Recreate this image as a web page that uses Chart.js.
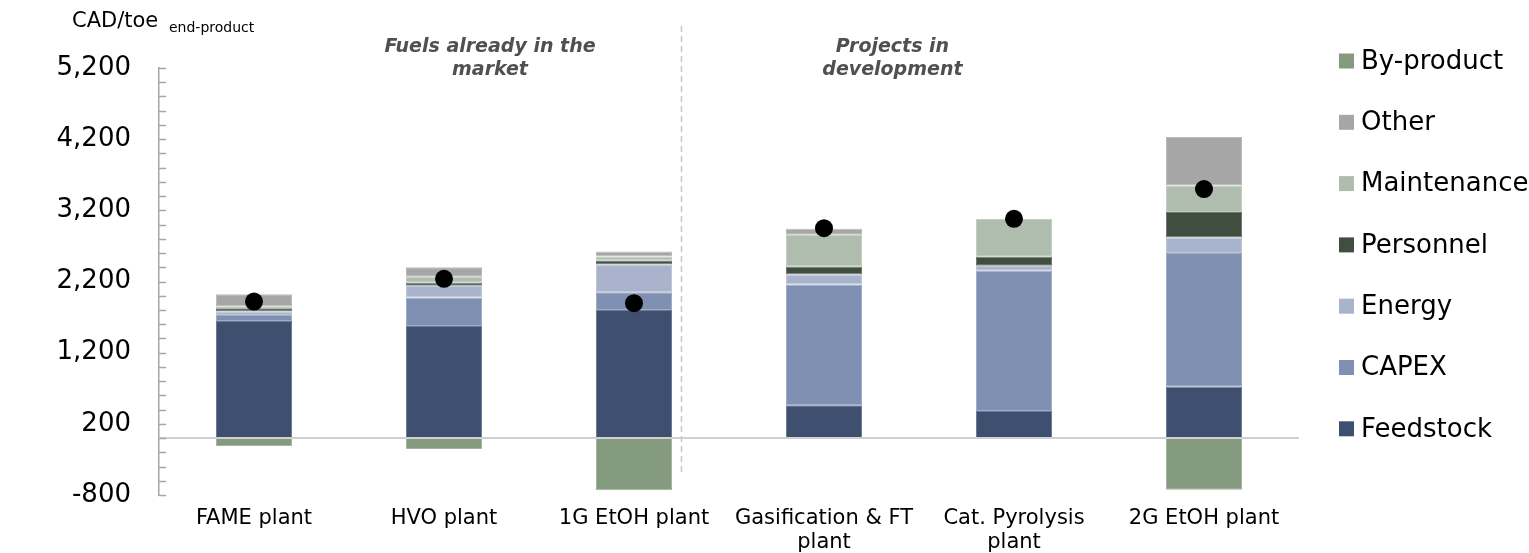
<!DOCTYPE html>
<html>
<head>
<meta charset="utf-8">
<script src="https://cdn.jsdelivr.net/npm/chart.js@4.4.1/dist/chart.umd.min.js"></script>
<style>
  html, body { margin: 0; padding: 0; background: #ffffff; }
  #wrap { width: 1529px; height: 553px; }
</style>
</head>
<body>
<div id="wrap"><canvas id="c" width="1529" height="553"></canvas></div>
<script>
// Plant types on the category axis
const categories = [
  'FAME plant',
  'HVO plant',
  '1G EtOH plant',
  ['Gasification & FT', 'plant'],
  ['Cat. Pyrolysis', 'plant'],
  '2G EtOH plant'
];

// Cost components, CAD per toe of end-product
const feedstock   = [1646, 1576, 1801, 460, 380, 722];
const capex       = [84, 398, 249, 1697, 1970, 1877];
const energy      = [47, 165, 389, 141, 70, 219];
const personnel   = [47, 42, 56, 112, 127, 358];
const maintenance = [28, 84, 56, 446, 530, 374];
const other       = [169, 136, 70, 85, 0, 681];
const byProduct   = [-110, -155, -732, 0, 0, -727];

// Net production cost (black dots)
const netCost = [1918, 2237, 1895, 2950, 3081, 3499];

// Axis range and labelled ticks
const yMin = -800;
const yMax = 5200;
const yMinorStep = 200;
const yLabelStep = 1000;

const groupLabels = [
  { lines: ['Fuels already in the', 'market'], at: 1.242 },
  { lines: ['Projects in', 'development'], at: 3.36 }
];
const separatorAt = 2.245;

const FONT = '"DejaVu Sans", Verdana, sans-serif';
Chart.defaults.font.family = FONT;
Chart.defaults.color = '#000000';

// slightly lighter edge for each bar segment
function tint(hex, f) {
  const n = parseInt(hex.slice(1), 16);
  const ch = [(n >> 16) & 255, (n >> 8) & 255, n & 255].map(c => Math.round(c + (255 - c) * f));
  return 'rgb(' + ch.join(',') + ')';
}
function barSet(label, data, color) {
  return {
    type: 'bar', label, data, backgroundColor: color,
    borderColor: tint(color, 0.25), borderWidth: 1, borderSkipped: false,
    stack: 'cost', order: 1,
    categoryPercentage: 0.8, barPercentage: 0.5
  };
}

// Short inward tick marks on the value axis
const innerTicks = {
  id: 'innerTicks',
  afterDraw(chart) {
    const y = chart.scales.y, ctx = chart.ctx, x0 = chart.chartArea.left;
    ctx.save();
    ctx.strokeStyle = '#a6a6a6';
    ctx.lineWidth = 1.5;
    y.ticks.forEach(t => {
      const py = Math.round(y.getPixelForValue(t.value)) + 0.5;
      ctx.beginPath();
      ctx.moveTo(x0, py);
      ctx.lineTo(x0 + 7, py);
      ctx.stroke();
    });
    ctx.restore();
  }
};

// Zero line, separator, group headings, unit label and legend
const decorations = {
  id: 'decorations',
  afterDatasetsDraw(chart) {
    const { ctx, chartArea } = chart;
    const y = chart.scales.y;
    ctx.save();
    const y0 = y.getPixelForValue(0);
    ctx.strokeStyle = '#d0d0d0';
    ctx.lineWidth = 2;
    ctx.beginPath();
    ctx.moveTo(chartArea.left, y0);
    ctx.lineTo(chartArea.right, y0);
    ctx.stroke();
    ctx.restore();
  },
  afterDraw(chart) {
    const { ctx, chartArea } = chart;
    const x = chart.scales.x, y = chart.scales.y;
    ctx.save();
    // dashed separator between market fuels and projects
    const sx = Math.round(x.getPixelForValue(separatorAt)) + 0.5;
    ctx.strokeStyle = '#c8c8c8';
    ctx.lineWidth = 1.5;
    ctx.setLineDash([6, 4]);
    ctx.beginPath();
    ctx.moveTo(sx, chartArea.top - 42);
    ctx.lineTo(sx, y.getPixelForValue(-520));
    ctx.stroke();
    ctx.setLineDash([]);

    // group headings
    ctx.fillStyle = '#505050';
    ctx.font = 'italic bold 19px ' + FONT;
    ctx.textAlign = 'center';
    ctx.textBaseline = 'middle';
    groupLabels.forEach(g => {
      const gx = x.getPixelForValue(g.at);
      g.lines.forEach((line, i) => {
        ctx.fillText(line, gx, chartArea.top - 21 + i * 23);
      });
    });

    // unit label
    ctx.fillStyle = '#000000';
    ctx.textAlign = 'left';
    ctx.textBaseline = 'alphabetic';
    ctx.font = '21px ' + FONT;
    ctx.fillText('CAD/toe', 72, 27);
    ctx.font = '14px ' + FONT;
    ctx.fillText('end-product', 169, 32);

    // legend, top to bottom in reverse stacking order
    const items = chart.data.datasets.filter(d => d.type === 'bar').slice().reverse();
    ctx.font = '26px ' + FONT;
    ctx.textBaseline = 'middle';
    items.forEach((d, i) => {
      const cy = 61 + i * 61.3;
      ctx.fillStyle = d.backgroundColor;
      ctx.fillRect(1339, cy - 7.5, 15, 15);
      ctx.fillStyle = '#000000';
      ctx.fillText(d.label, 1361, cy + 1);
    });
    ctx.restore();
  }
};

new Chart(document.getElementById('c'), {
  data: {
    labels: categories,
    datasets: [
      barSet('Feedstock', feedstock, '#3f4f6f'),
      barSet('CAPEX', capex, '#7f90b3'),
      barSet('Energy', energy, '#a9b4cc'),
      barSet('Personnel', personnel, '#3f4e3f'),
      barSet('Maintenance', maintenance, '#aebdad'),
      barSet('Other', other, '#a6a6a6'),
      barSet('By-product', byProduct, '#849b80'),
      {
        type: 'line', label: 'Net cost', data: netCost,
        showLine: false, stack: 'net', order: 0,
        pointRadius: 9, pointHoverRadius: 9,
        pointBackgroundColor: '#000000', pointBorderColor: '#000000', pointBorderWidth: 0
      }
    ]
  },
  options: {
    responsive: false,
    animation: false,
    devicePixelRatio: 1,
    layout: { padding: { left: 56, right: 230, top: 68, bottom: 0 } },
    plugins: { legend: { display: false }, tooltip: { enabled: false } },
    scales: {
      x: {
        stacked: true,
        offset: true,
        grid: { display: false, drawTicks: false },
        border: { display: false },
        ticks: {
          padding: 11, maxRotation: 0, autoSkip: false,
          font: { size: 21, lineHeight: 1.15 }, color: '#000000'
        },
        afterFit(s) { s.height = 58; }
      },
      y: {
        stacked: true,
        min: yMin, max: yMax,
        grid: { display: false, drawTicks: false },
        border: { display: true, color: '#a6a6a6', width: 1.5 },
        ticks: {
          stepSize: yMinorStep, autoSkip: false, padding: 28,
          font: { size: 26 }, color: '#000000',
          callback: v => ((v - (yMin + yLabelStep)) % yLabelStep === 0) ? v.toLocaleString('en-US') : ''
        },
        afterFit(s) { s.width = 103; }
      }
    }
  },
  plugins: [innerTicks, decorations]
});
</script>
</body>
</html>
